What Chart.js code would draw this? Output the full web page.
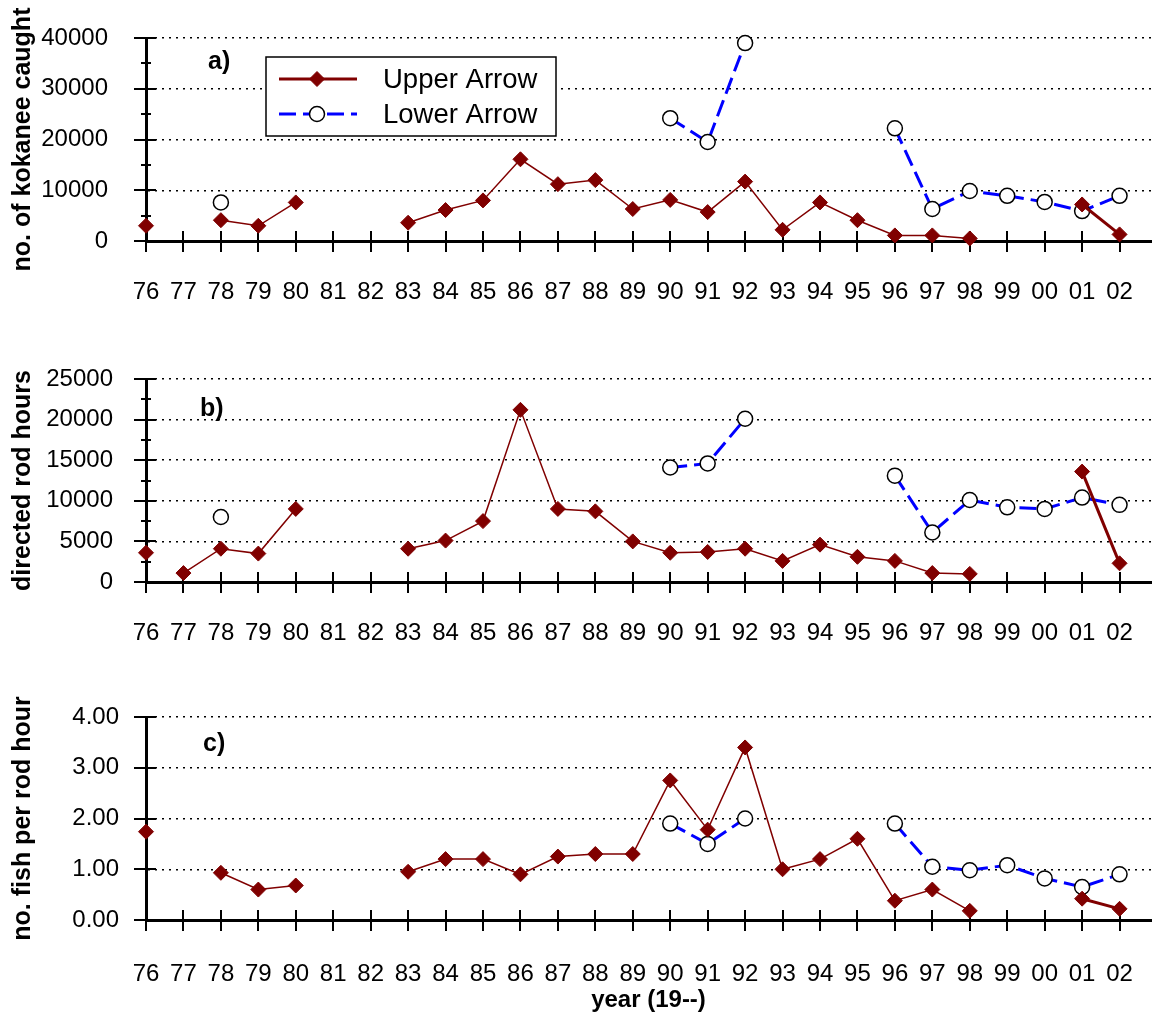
<!DOCTYPE html>
<html>
<head>
<meta charset="utf-8" />
<title>Kokanee catch, effort and catch rate - Upper and Lower Arrow</title>
<script src="https://cdn.jsdelivr.net/npm/chart.js@4.4.1/dist/chart.umd.min.js"></script>
<style>
	body { margin: 0; background: #fff; }
	#wrap { position: relative; width: 1160px; height: 1015px; }
	#wrap canvas { position: absolute; left: 0; }
</style>
</head>
<body>
<div id="wrap">
	<canvas id="catchChart" width="1160" height="330" style="top:0px"></canvas>
	<canvas id="hoursChart" width="1160" height="330" style="top:341px"></canvas>
	<canvas id="cpueChart" width="1160" height="336" style="top:679px"></canvas>
</div>

<script>
// years 1976 - 2002, shown as two digits
var years = [76, 77, 78, 79, 80, 81, 82, 83, 84, 85, 86, 87, 88, 89, 90, 91, 92, 93, 94, 95, 96, 97, 98, 99, 100, 101, 102]
var yearLabels = ['76', '77', '78', '79', '80', '81', '82', '83', '84', '85', '86', '87', '88', '89',
	'90', '91', '92', '93', '94', '95', '96', '97', '98', '99', '00', '01', '02']

// a) no. of kokanee caught
var catchUpper = [3000, null, 4100, 3000, 7600, null, null, 3600, 6100, 8000, 16100, 11200, 12000, 6300,
	8100, 5700, 11700, 2200, 7600, 4100, 1100, 1100, 500, null, null, 7200, 1300]
var catchLower = [null, null, 7600, null, null, null, null, null, null, null, null, null, null, null,
	24200, 19500, 39000, null, null, null, 22200, 6300, 9850, 8900, 7700, 5900, 8900]

// b) directed rod hours
var hoursUpper = [3600, 1100, 4100, 3500, 9000, null, null, 4100, 5100, 7500, 21200, 9000, 8700, 5000,
	3600, 3700, 4100, 2600, 4600, 3100, 2600, 1100, 1000, null, null, 13600, 2300]
var hoursLower = [null, null, 8000, null, null, null, null, null, null, null, null, null, null, null,
	14100, 14600, 20100, null, null, null, 13100, 6100, 10100, 9200, 9000, 10400, 9500]
var hoursBreaks = [76]   // 76 is not joined to 77

// c) no. fish per rod hour
var cpueUpper = [1.74, null, 0.93, 0.6, 0.68, null, null, 0.95, 1.2, 1.2, 0.9, 1.25, 1.3, 1.3,
	2.75, 1.78, 3.4, 1.0, 1.2, 1.6, 0.38, 0.6, 0.18, null, null, 0.42, 0.22]
var cpueLower = [null, null, null, null, null, null, null, null, null, null, null, null, null, null,
	1.9, 1.5, 2.0, null, null, null, 1.9, 1.05, 0.98, 1.08, 0.82, 0.65, 0.9]

var yTicksA = [0, 10000, 20000, 30000, 40000]
var yMinorA = [5000, 15000, 25000, 35000]
var yTicksB = [0, 5000, 10000, 15000, 20000, 25000]
var yMinorB = [2500, 7500, 12500, 17500, 22500]
var yTicksC = [0, 1, 2, 3, 4]
var yMinorC = []

var seriesNames = ['Upper Arrow', 'Lower Arrow']

var FONT = "'Liberation Sans', Arial, sans-serif"
var RED = '#800000'
var BLUE = '#0000ff'

function xy(values) {
	var out = []
	for (var i = 0; i < years.length; i++) out.push({ x: years[i], y: values[i] })
	return out
}

// tick marks that cross the axes, like the original
var axisTicks = {
	id: 'axisTicks',
	beforeDatasetsDraw: function(chart, args, o) {
		var ctx = chart.ctx, xs = chart.scales.x, ys = chart.scales.y
		var ax = chart.chartArea.left, ay = chart.chartArea.bottom
		ctx.save()
		ctx.strokeStyle = '#000'
		ctx.lineWidth = 2
		ctx.beginPath()
		years.forEach(function(yr) {
			var px = Math.round(xs.getPixelForValue(yr))
			ctx.moveTo(px, ay - 10)
			ctx.lineTo(px, ay + 11)
		})
		o.major.forEach(function(v) {
			var py = Math.round(ys.getPixelForValue(v))
			ctx.moveTo(ax - 12, py)
			ctx.lineTo(ax + 10, py)
		})
		o.minor.forEach(function(v) {
			var py = Math.round(ys.getPixelForValue(v))
			ctx.moveTo(ax - 5, py)
			ctx.lineTo(ax + 5, py)
		})
		ctx.stroke()
		ctx.restore()
	}
}

// "a)", "b)", "c)" and the legend box of panel a
var panelDecor = {
	id: 'panelDecor',
	afterDraw: function(chart, args, o) {
		var ctx = chart.ctx
		ctx.save()
		ctx.fillStyle = '#000'
		ctx.font = 'bold 25px ' + FONT
		ctx.textBaseline = 'middle'
		ctx.textAlign = 'left'
		ctx.fillText(o.letter, o.lx, o.ly)

		if (o.legend) {
			var ds = chart.data.datasets
			var L = 266, T = 57, R = 556, B = 136
			ctx.fillStyle = '#fff'
			ctx.fillRect(L, T, R - L, B - T)
			ctx.strokeStyle = '#000'
			ctx.lineWidth = 1.5
			ctx.strokeRect(L, T, R - L, B - T)
			var rows = [79, 114]
			for (var i = 0; i < 2; i++) {
				var y = rows[i]
				ctx.save()
				ctx.strokeStyle = ds[i].borderColor
				ctx.lineWidth = 3
				ctx.setLineDash(ds[i].borderDash || [])
				ctx.beginPath()
				ctx.moveTo(279, y)
				ctx.lineTo(357, y)
				ctx.stroke()
				ctx.restore()
				ctx.save()
				ctx.fillStyle = ds[i].pointBackgroundColor
				ctx.strokeStyle = ds[i].pointBorderColor
				ctx.lineWidth = ds[i].pointBorderWidth
				ctx.beginPath()
				var r = ds[i].pointRadius
				if (ds[i].pointStyle === 'circle') {
					ctx.arc(317, y, r, 0, Math.PI * 2)
				} else {
					ctx.moveTo(317 - r, y); ctx.lineTo(317, y - r); ctx.lineTo(317 + r, y); ctx.lineTo(317, y + r)
					ctx.closePath()
				}
				ctx.fill()
				ctx.stroke()
				ctx.restore()
				ctx.fillStyle = '#000'
				ctx.font = '27.5px ' + FONT
				ctx.textBaseline = 'middle'
				ctx.fillText(seriesNames[i], 383, y + 1)
			}
		}
		ctx.restore()
	}
}

function makePanel(id, p) {
	var canvas = document.getElementById(id)
	var H = canvas.height
	var upperBreaks = p.breaks || []
	return new Chart(canvas, {
		type: 'line',
		data: {
			datasets: [{
				label: seriesNames[0],
				data: xy(p.upper),
				borderColor: RED,
				borderWidth: 1.5,
				pointStyle: 'rectRot',
				pointRadius: 7.5,
				pointBackgroundColor: RED,
				pointBorderColor: RED,
				pointBorderWidth: 1,
				tension: 0,
				spanGaps: false,
				clip: false,
				segment: {
					borderWidth: function(c) { return c.p0.parsed.x >= 101 ? 3 : 1.5 },
					borderColor: function(c) { return upperBreaks.indexOf(c.p0.parsed.x) >= 0 ? 'rgba(0,0,0,0)' : RED }
				}
			}, {
				label: seriesNames[1],
				data: xy(p.lower),
				borderColor: BLUE,
				borderWidth: 3,
				borderDash: [17, 7],
				pointStyle: 'circle',
				pointRadius: 7.5,
				pointBackgroundColor: '#fff',
				pointBorderColor: '#000',
				pointBorderWidth: 1.5,
				tension: 0,
				spanGaps: false,
				clip: false
			}]
		},
		options: {
			responsive: false,
			animation: false,
			events: [],
			layout: { padding: { top: 38, right: 2, left: 0, bottom: 0 } },
			plugins: {
				legend: { display: false },
				tooltip: { enabled: false },
				axisTicks: { major: p.yTicks, minor: p.yMinor },
				panelDecor: { letter: p.letter, lx: p.lx, ly: p.ly, legend: !!p.legend }
			},
			scales: {
				x: {
					type: 'linear',
					min: 76,
					max: 102.84,
					grid: { display: false, drawTicks: false },
					border: { display: true, color: '#000', width: 3 },
					afterBuildTicks: function(s) { s.ticks = years.map(function(v) { return { value: v } }) },
					afterFit: function(s) {
						s.height = H - 241
						s.paddingLeft = 0
						s.paddingRight = 0
					},
					ticks: {
						autoSkip: false,
						maxRotation: 0,
						padding: p.xPad,
						color: '#000',
						font: { family: FONT, size: 24 },
						callback: function(v) { return yearLabels[years.indexOf(v)] }
					},
					title: {
						display: !!p.xTitle,
						text: p.xTitle || '',
						color: '#000',
						font: { family: FONT, size: 24, weight: 'bold' },
						padding: { top: 0, bottom: 0 }
					}
				},
				y: {
					min: p.yTicks[0],
					max: p.yTicks[p.yTicks.length - 1],
					afterBuildTicks: function(s) { s.ticks = p.yTicks.map(function(v) { return { value: v } }) },
					afterFit: function(s) {
						s.width = 146
						s.paddingTop = 0
						s.paddingBottom = 0
					},
					grid: { color: '#000', lineWidth: 1.5, drawTicks: false },
					border: { display: true, color: '#000', width: 3, dash: [2, 5] },
					ticks: {
						padding: p.yPad,
						color: '#000',
						font: { family: FONT, size: 24 },
						callback: p.yFormat
					},
					title: {
						display: true,
						text: p.yTitle,
						color: '#000',
						font: { family: FONT, size: 25, weight: 'bold' },
						padding: { top: 8, bottom: 0 }
					}
				}
			}
		},
		plugins: [axisTicks, panelDecor]
	})
}

function plain(v) { return String(v) }
function twoDec(v) { return v.toFixed(2) }

makePanel('catchChart', {
	upper: catchUpper, lower: catchLower,
	yTicks: yTicksA, yMinor: yMinorA, yFormat: plain, yPad: 38, xPad: 37,
	yTitle: 'no. of kokanee caught', letter: 'a)', lx: 208, ly: 62, legend: true
})
makePanel('hoursChart', {
	upper: hoursUpper, lower: hoursLower, breaks: hoursBreaks,
	yTicks: yTicksB, yMinor: yMinorB, yFormat: plain, yPad: 33, xPad: 37,
	yTitle: 'directed rod hours', letter: 'b)', lx: 200, ly: 68
})
makePanel('cpueChart', {
	upper: cpueUpper, lower: cpueLower,
	yTicks: yTicksC, yMinor: yMinorC, yFormat: twoDec, yPad: 27, xPad: 40,
	yTitle: 'no. fish per rod hour', letter: 'c)', lx: 203, ly: 65,
	xTitle: 'year (19--)'
})
</script>
</body>
</html>
